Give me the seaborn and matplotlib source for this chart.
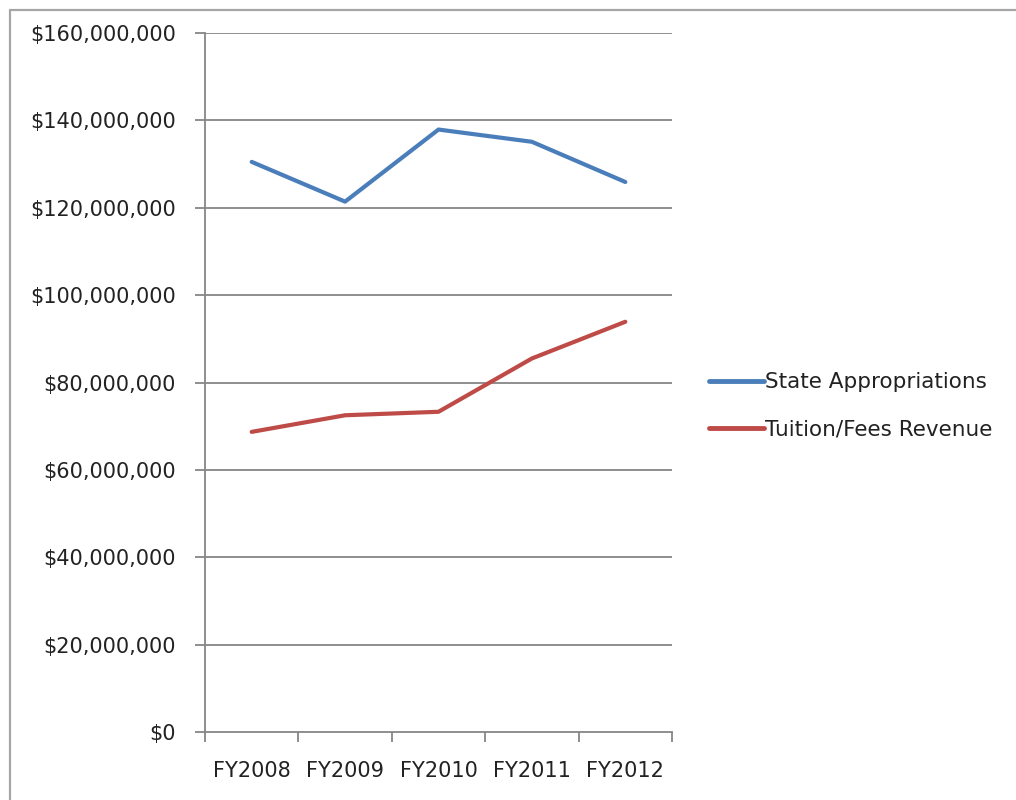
import matplotlib
matplotlib.use("Agg")
import matplotlib.pyplot as plt
from matplotlib.lines import Line2D
from matplotlib.ticker import FuncFormatter, FixedLocator
import pandas as pd
import seaborn as sns

# Fiscal years and revenue sources (dollars)
years = ["FY2008", "FY2009", "FY2010", "FY2011", "FY2012"]
state_appropriations = [130.5e6, 121.4e6, 137.9e6, 135.1e6, 125.9e6]
tuition_fees = [68.7e6, 72.5e6, 73.3e6, 85.5e6, 93.9e6]
series_names = ["State Appropriations", "Tuition/Fees Revenue"]
series_colors = ["#4A7EBB", "#BE4B48"]
y_ticks = [0, 20e6, 40e6, 60e6, 80e6, 100e6, 120e6, 140e6, 160e6]

df = pd.DataFrame({
    "Year": years * 2,
    "Amount": state_appropriations + tuition_fees,
    "Source": [series_names[0]] * len(years) + [series_names[1]] * len(years),
})

sns.set_theme(style="white")
plt.rcParams["font.family"] = ["DejaVu Sans"]

fig = plt.figure(figsize=(10.16, 8.0), dpi=100)
ax = fig.add_axes([205 / 1016, 1 - 732 / 800, (672 - 205) / 1016, (732 - 33) / 800])

sns.lineplot(data=df, x="Year", y="Amount", hue="Source",
             palette=dict(zip(series_names, series_colors)),
             linewidth=3.0, sort=False, ax=ax, legend=False)

grid_c = "#868686"
ax.set_xlim(-0.5, len(years) - 0.5)
ax.set_ylim(0, 160e6)
ax.set_yticks(y_ticks)
ax.yaxis.set_major_formatter(FuncFormatter(lambda v, p: f"${v:,.0f}"))
for v in y_ticks[1:]:
    ax.axhline(v, color=grid_c, linewidth=1.3, zorder=0)

# category labels centred, tick marks on the category boundaries
ax.set_xticks(range(len(years)))
ax.set_xticklabels(years)
ax.xaxis.set_minor_locator(FixedLocator([i - 0.5 for i in range(len(years) + 1)]))
ax.tick_params(axis="x", which="major", length=0, pad=21, labelsize=15, labelcolor="#222222")
ax.tick_params(axis="x", which="minor", length=7, width=1.3, color=grid_c, direction="out", bottom=True)
ax.tick_params(axis="y", which="major", length=7, width=1.3, color=grid_c, direction="out",
               left=True, pad=14, labelsize=15, labelcolor="#222222")

ax.set_xlabel("")
ax.set_ylabel("")
for s in ["top", "right"]:
    ax.spines[s].set_visible(False)
for s in ["left", "bottom"]:
    ax.spines[s].set_color(grid_c)
    ax.spines[s].set_linewidth(1.3)

handles = [Line2D([0], [0], color=c, linewidth=3.5) for c in series_colors]
fig.legend(handles, series_names, loc="center left",
           bbox_to_anchor=(698 / 1016, 1 - 406 / 800), bbox_transform=fig.transFigure,
           frameon=False, fontsize=15.5, handlelength=2.55, handletextpad=0.08,
           labelspacing=1.28, borderpad=0, labelcolor="#222222")

# chart-area border
border_c = "#a6a6a6"
fig.add_artist(Line2D([10 / 1016, 10 / 1016], [0, 1 - 10 / 800], color=border_c,
                      linewidth=1.6, transform=fig.transFigure))
fig.add_artist(Line2D([10 / 1016, 1], [1 - 10 / 800, 1 - 10 / 800], color=border_c,
                      linewidth=1.6, transform=fig.transFigure))

fig.savefig("out.png", dpi=100)
